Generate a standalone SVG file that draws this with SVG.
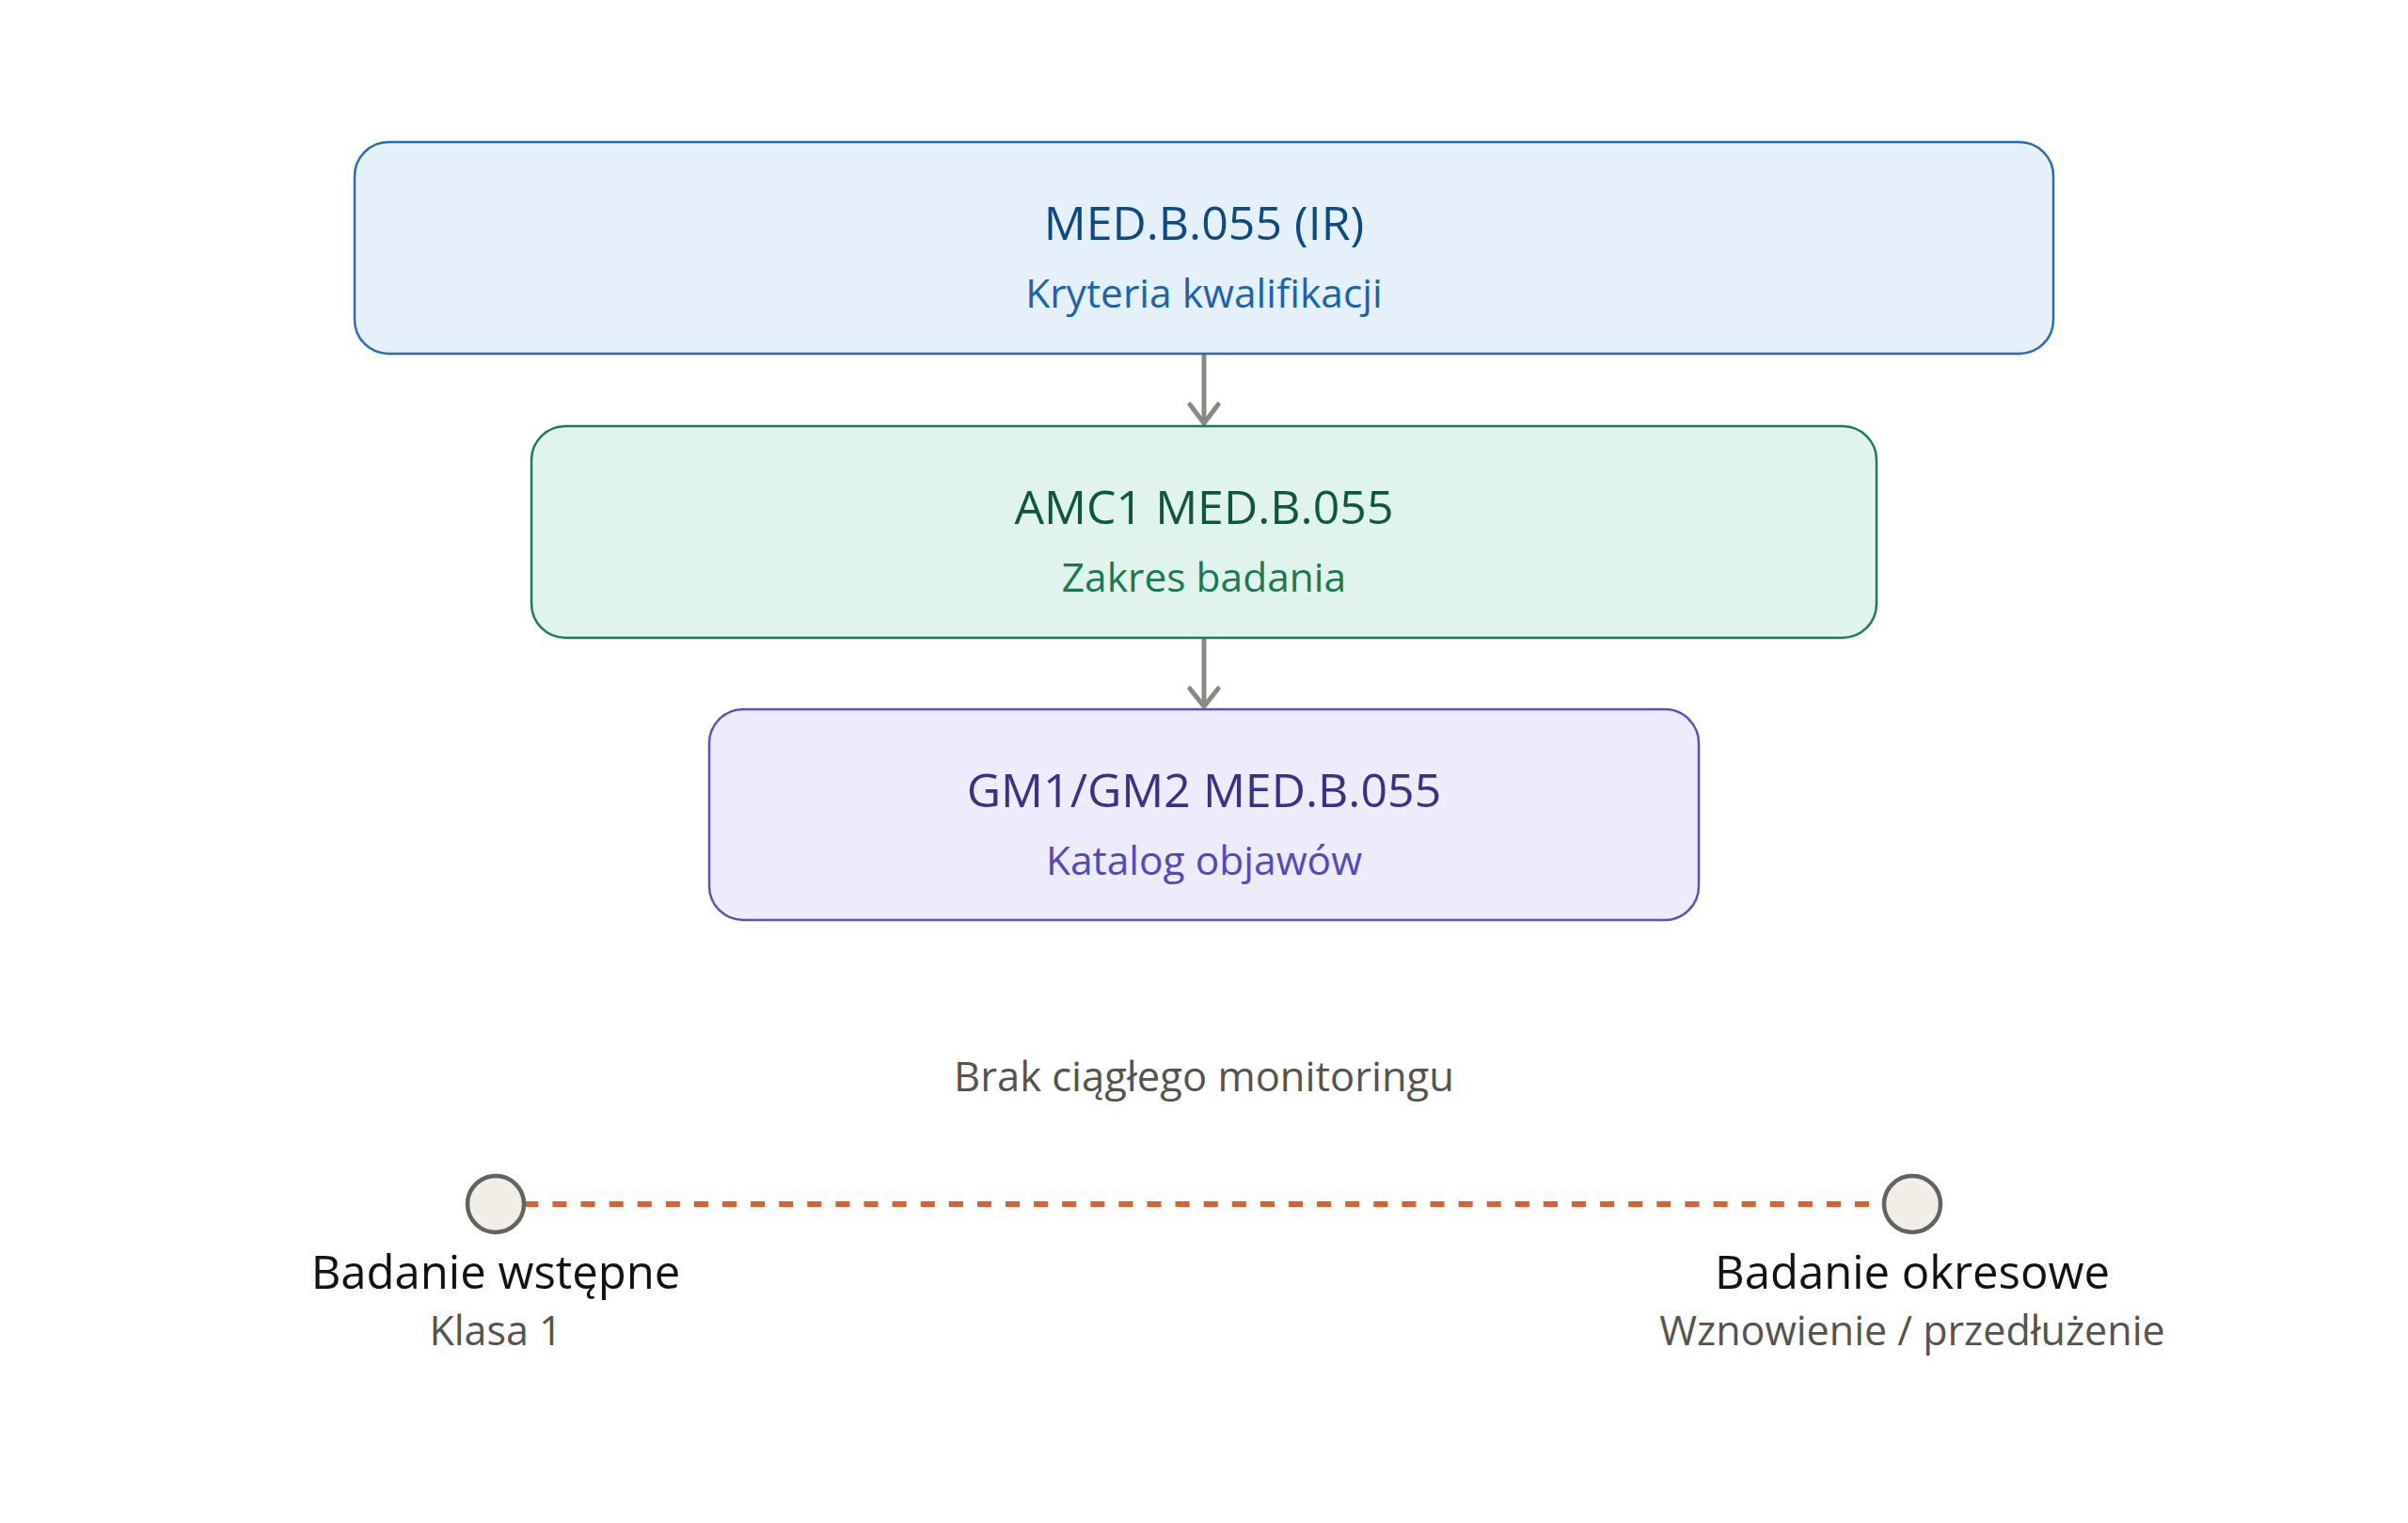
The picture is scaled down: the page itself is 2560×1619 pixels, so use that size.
<svg xmlns="http://www.w3.org/2000/svg" width="2560" height="1619" viewBox="0 0 2560 1619">
<style>
text{font-family:"Open Sans","Noto Sans","Liberation Sans",sans-serif;text-anchor:middle}
.t{font-size:50px}
.s{font-size:42.5px}
.box{stroke-width:2.5}
.lbl{font-size:49px;fill:#111111}
.sub{font-size:43px;fill:#55534e}
.conn{stroke:#8a8984;stroke-width:5;fill:none;stroke-linecap:round;stroke-linejoin:round}
.dot{fill:#f0eee7;stroke:#636360;stroke-width:4.5}
</style>
<rect width="2560" height="1619" fill="#ffffff"/>
<g id="connectors">
<line class="conn" x1="1280" y1="377" x2="1280" y2="449"/>
<polyline class="conn" points="1265,430 1280,450 1295,430"/>
<line class="conn" x1="1280" y1="679" x2="1280" y2="750"/>
<polyline class="conn" points="1265,732 1280,751 1295,732"/>
<line x1="557.3" y1="1280" x2="2003" y2="1280" stroke="#d9602f" stroke-width="6" stroke-dasharray="15.05 15.05"/>
</g>
<g id="node-ir">
<rect class="box" x="377" y="151" width="1806" height="225" rx="36" fill="#e5f0fb" stroke="#2a6cb3"/>
<text class="t" x="1280" y="255" fill="#0d4a84">MED.B.055 (IR)</text>
<text class="s" x="1280" y="327" fill="#1b63ad">Kryteria kwalifikacji</text>
</g>
<g id="node-amc">
<rect class="box" x="565" y="453" width="1430" height="225" rx="36" fill="#e0f3ec" stroke="#1f7a5c"/>
<text class="t" x="1280" y="557" fill="#0e573e">AMC1 MED.B.055</text>
<text class="s" x="1280" y="629" fill="#187a52">Zakres badania</text>
</g>
<g id="node-gm">
<rect class="box" x="754" y="754" width="1052" height="224" rx="36" fill="#edecfc" stroke="#5a50bf"/>
<text class="t" x="1280" y="858" fill="#3a2f8a">GM1/GM2 MED.B.055</text>
<text class="s" x="1280" y="930" fill="#5447c0">Katalog objawów</text>
</g>
<g id="note">
<text x="1280" y="1160" font-size="43.5" fill="#55534e">Brak ciągłego monitoringu</text>
</g>
<g id="node-initial">
<circle class="dot" cx="527" cy="1280" r="30"/>
<text class="lbl" x="527" y="1370">Badanie wstępne</text>
<text class="sub" x="527" y="1430">Klasa 1</text>
</g>
<g id="node-periodic">
<circle class="dot" cx="2033" cy="1280" r="30"/>
<text class="lbl" x="2033" y="1370">Badanie okresowe</text>
<text class="sub" x="2033" y="1430">Wznowienie / przedłużenie</text>
</g>
</svg>
